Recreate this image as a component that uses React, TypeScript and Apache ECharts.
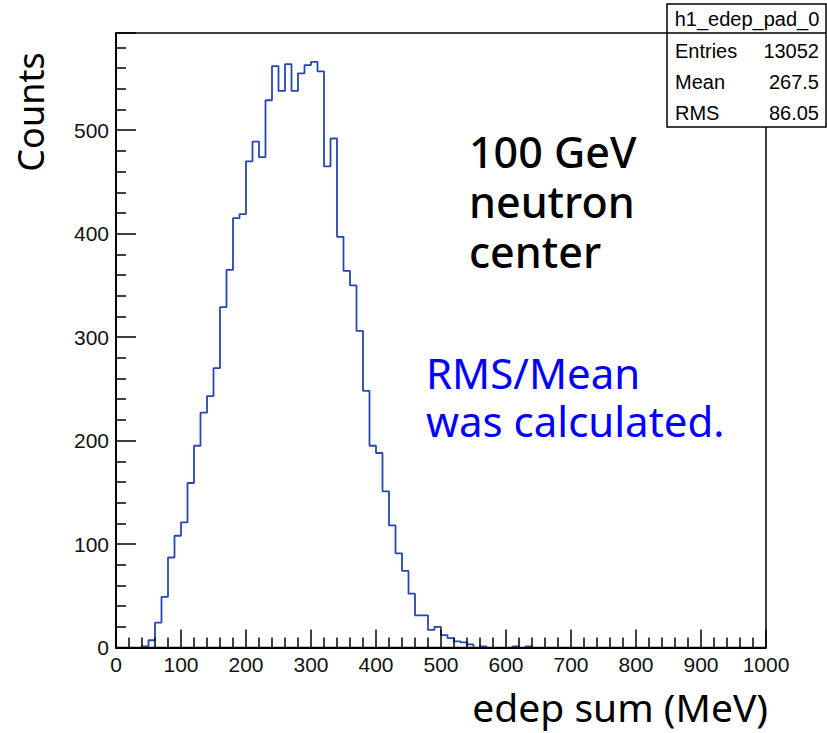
import React, { useEffect, useRef } from "react";
import * as echarts from "echarts";

// Histogram: 100 bins of 10 MeV from 0 to 1000 MeV
const BIN_WIDTH = 10;
const counts: number[] = [
  0, 0, 0, 0, 1, 7, 24, 49, 87, 108,
  121, 159, 195, 227, 243, 270, 329, 365, 415, 419,
  470, 489, 474, 529, 562, 538, 564, 538, 555, 563,
  566, 557, 465, 492, 397, 364, 350, 306, 248, 195,
  188, 151, 118, 91, 74, 52, 31, 31, 17, 20,
  12, 9, 6, 5, 3, 0, 1, 0, 0, 0,
  0, 1, 0, 1, 0, 0, 0, 0, 0, 0,
  0, 0, 0, 0, 0, 0, 0, 0, 0, 0,
  0, 0, 0, 0, 0, 0, 0, 0, 0, 0,
  0, 0, 0, 0, 0, 0, 0, 0, 0, 0,
];

const statsTitle = "h1_edep_pad_0";
const statsLabels = ["Entries", "Mean", "RMS"];
const statsValues = ["13052", "267.5", "86.05"];

const xTitle = "edep sum (MeV)";
const yTitle = "Counts";
const noteBlack = ["100 GeV", "neutron", "center"];
const noteBlue = ["RMS/Mean", "was calculated."];

// Build histogram outline (corner points in data units); the parts lying on
// the zero baseline are left out so that the black axis line shows there.
function outline(values: number[], width: number): any[] {
  const pts: [number, number][] = [[0, 0]];
  values.forEach((v, i) => {
    pts.push([i * width, v]);
    pts.push([(i + 1) * width, v]);
  });
  pts.push([values.length * width, 0]);
  const out: any[] = [];
  for (let k = 0; k < pts.length; k++) {
    if (k > 0) {
      const a = pts[k - 1];
      const b = pts[k];
      if (a[1] === 0 && b[1] === 0) {
        if (out.length && out[out.length - 1][1] !== "-") out.push([a[0], "-"]);
      }
    }
    out.push(pts[k]);
  }
  return out;
}

export default function App() {
  const ref = useRef<HTMLDivElement>(null);
  useEffect(() => {
    document.body.style.margin = "0";
    const chart = echarts.init(ref.current!, null, { renderer: "svg" });
    const data = outline(counts, BIN_WIDTH);

    const axisFont = "Liberation Sans";
    const noteFont = "Noto Sans";

    const graphics: any[] = [];
    // stats box
    graphics.push({
      type: "rect",
      z: 100,
      shape: { x: 667, y: 4, width: 159, height: 123 },
      style: { fill: "#fff", stroke: "#000", lineWidth: 1.5 },
    });
    graphics.push({
      type: "line",
      z: 101,
      shape: { x1: 667, y1: 33, x2: 826, y2: 33 },
      style: { stroke: "#000", lineWidth: 1.5 },
    });
    graphics.push({
      type: "text",
      z: 102,
      style: {
        text: statsTitle, x: 747, y: 19, fontSize: 20, fontFamily: axisFont,
        fill: "#000", textAlign: "center", textVerticalAlign: "middle",
      },
    });
    statsLabels.forEach((lab, i) => {
      const y = 51 + i * 31;
      graphics.push({
        type: "text", z: 102,
        style: { text: lab, x: 675, y, fontSize: 20, fontFamily: axisFont, fill: "#000", textAlign: "left", textVerticalAlign: "middle" },
      });
      graphics.push({
        type: "text", z: 102,
        style: { text: statsValues[i], x: 819, y, fontSize: 20, fontFamily: axisFont, fill: "#000", textAlign: "right", textVerticalAlign: "middle" },
      });
    });
    // notes (each block one multi-line text)
    graphics.push({
      type: "text", z: 50,
      style: {
        text: noteBlack.join("\n"), x: 469, y: 201, fontSize: 43, lineHeight: 50,
        fontFamily: noteFont, fontWeight: 500, fill: "#000", textAlign: "left", textVerticalAlign: "middle",
      },
    });
    graphics.push({
      type: "text", z: 50,
      style: {
        text: noteBlue.join("\n"), x: 426, y: 396, fontSize: 42, lineHeight: 48,
        fontFamily: noteFont, fill: "#0000ff", textAlign: "left", textVerticalAlign: "middle",
      },
    });
    // axis titles
    graphics.push({
      type: "text", z: 50,
      x: 30, y: 112, rotation: Math.PI / 2,
      style: { text: yTitle, x: 0, y: 0, fontSize: 36, fontFamily: noteFont, fill: "#000", textAlign: "center", textVerticalAlign: "middle" },
    });
    graphics.push({
      type: "text", z: 50,
      style: { text: xTitle, x: 768, y: 706, fontSize: 39, fontFamily: noteFont, fill: "#000", textAlign: "right", textVerticalAlign: "middle" },
    });

    chart.setOption({
      animation: false,
      backgroundColor: "#fff",
      grid: {
        left: 116, right: 61, top: 33, bottom: 85.5,
        show: true, borderColor: "#000", borderWidth: 1.5, backgroundColor: "transparent",
      },
      xAxis: {
        type: "value", min: 0, max: 1000, interval: 100, z: 10,
        axisLine: { show: true, lineStyle: { color: "#000", width: 1.8 } },
        axisTick: { show: true, inside: true, length: 18, lineStyle: { color: "#000", width: 1.5 } },
        minorTick: { show: true, splitNumber: 5, length: 10, lineStyle: { color: "#000", width: 1.5 } },
        splitLine: { show: false },
        minorSplitLine: { show: false },
        axisLabel: {
          fontSize: 21, fontFamily: axisFont, color: "#111", margin: 6,
          formatter: (v: number) => String(v),
        },
      },
      yAxis: {
        type: "value", min: 0, max: 594, interval: 100, z: 10,
        axisLine: { show: true, lineStyle: { color: "#000", width: 1.8 } },
        axisTick: { show: true, inside: true, length: 20, lineStyle: { color: "#000", width: 1.5 } },
        minorTick: { show: true, splitNumber: 5, length: 10, lineStyle: { color: "#000", width: 1.5 } },
        splitLine: { show: false },
        minorSplitLine: { show: false },
        axisLabel: { fontSize: 21, fontFamily: axisFont, color: "#111", margin: 7, showMaxLabel: false },
      },
      series: [
        {
          type: "line",
          data,
          symbol: "none",
          showSymbol: false,
          connectNulls: false,
          z: 1,
          lineStyle: { color: "#2448b0", width: 1.8 },
        },
      ],
      graphic: graphics,
    });
    return () => chart.dispose();
  }, []);
  return <div ref={ref} style={{ width: 827, height: 733 }} />;
}
